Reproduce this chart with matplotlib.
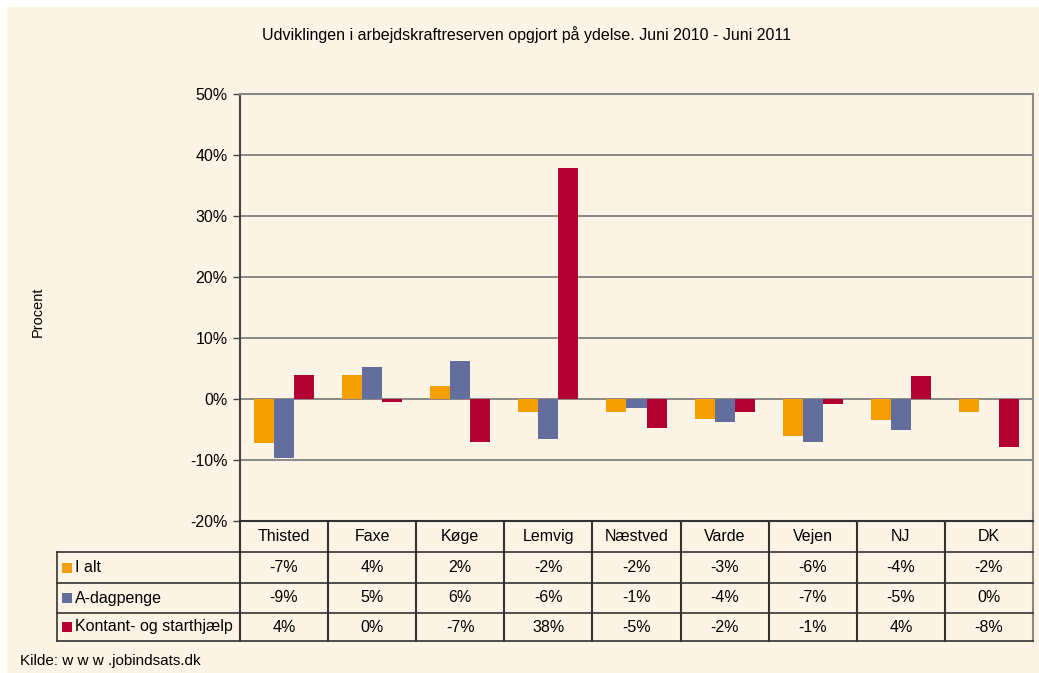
import numpy as np
import matplotlib.pyplot as plt
import matplotlib.transforms as mtransforms
from matplotlib.patches import Rectangle

plt.rcParams['font.family'] = ['Liberation Sans', 'DejaVu Sans']

# ---- data ------------------------------
categories = ["Thisted", "Faxe", "Køge", "Lemvig", "Næstved", "Varde", "Vejen", "NJ", "DK"]
series_names = ["I alt", "A-dagpenge", "Kontant- og starthjælp"]

i_alt = [-7.2, 3.9, 2.1, -2.2, -2.2, -3.2, -6.0, -3.5, -2.1]
a_dagpenge = [-9.7, 5.3, 6.2, -6.5, -1.4, -3.7, -7.0, -5.0, 0.0]
kontant = [3.9, -0.5, -7.0, 37.8, -4.7, -2.2, -0.9, 3.8, -7.8]

# values as printed in the data table
i_alt_txt = ["-7%", "4%", "2%", "-2%", "-2%", "-3%", "-6%", "-4%", "-2%"]
a_dagpenge_txt = ["-9%", "5%", "6%", "-6%", "-1%", "-4%", "-7%", "-5%", "0%"]
kontant_txt = ["4%", "0%", "-7%", "38%", "-5%", "-2%", "-1%", "4%", "-8%"]

colors = ["#F5A000", "#646E9C", "#B30032"]
bg = "#FDF4E5"
W, H = 1039, 673

fig = plt.figure(figsize=(W / 100, H / 100), dpi=100, facecolor="white")
fig.patches.append(Rectangle((7 / W, 0), 1 - 7 / W, 1 - 7 / H, transform=fig.transFigure,
                             facecolor=bg, edgecolor="none", zorder=-10))

left, right, top, bottom = 240, 1033, 94, 521
ax = fig.add_axes([left / W, 1 - bottom / H, (right - left) / W, (bottom - top) / H])
ax.set_facecolor(bg)

x = np.arange(len(categories))
w = 0.227
for k, vals in enumerate([i_alt, a_dagpenge, kontant]):
    ax.bar(x + (k - 1) * w, vals, width=w, color=colors[k], zorder=3)

ax.set_xlim(-0.5, len(categories) - 0.5)
ax.set_ylim(-20, 50)
ax.set_yticks(np.arange(-20, 51, 10))
ax.set_yticklabels(["%d%%" % v for v in np.arange(-20, 51, 10)], fontsize=11.5)
ax.tick_params(axis="y", direction="out", length=5, width=1, color="#444444", pad=4)
ax.set_xticks([])
ax.yaxis.grid(True, color="#777777", linewidth=1.2, zorder=1)
for s in ["top", "right"]:
    ax.spines[s].set_color("#888888")
    ax.spines[s].set_linewidth(1.5)
ax.spines["left"].set_color("#444444")
ax.spines["left"].set_linewidth(1.5)
ax.spines["bottom"].set_color("#333333")
ax.spines["bottom"].set_linewidth(1.5)

# ---- data table below the axis ------------------------------
ph = bottom - top
rows_px = [521, 552, 583, 613, 641]
rows = [-(r - bottom) / ph for r in rows_px]
trans = mtransforms.blended_transform_factory(ax.transData, ax.transAxes)
lc = "#333333"
x_lab = (57 - left) / (right - left)
fs = 11.5

# vertical separators
for b in np.arange(len(categories) + 1) - 0.5:
    c = "#888888" if b == len(categories) - 0.5 else lc
    ax.plot([b, b], [rows[0], rows[-1]], transform=trans, color=c, lw=1.5, clip_on=False)
# horizontal lines
for r in rows[1:]:
    ax.plot([x_lab, 1], [r, r], transform=ax.transAxes, color=lc, lw=1.2, clip_on=False)
ax.plot([x_lab, x_lab], [rows[1], rows[-1]], transform=ax.transAxes, color=lc, lw=1.2, clip_on=False)

for i, c in enumerate(categories):
    ax.text(i, (rows[0] + rows[1]) / 2, c, transform=trans, ha="center", va="center", fontsize=fs)

for k, (name, txt) in enumerate(zip(series_names, [i_alt_txt, a_dagpenge_txt, kontant_txt])):
    yc = (rows[k + 1] + rows[k + 2]) / 2
    sq = 10 / ph
    ax.add_patch(Rectangle(((62 - left) / (right - left), yc - sq / 2), 10 / (right - left), sq,
                           transform=ax.transAxes, facecolor=colors[k], edgecolor="none", clip_on=False))
    ax.text((75 - left) / (right - left), yc, name, transform=ax.transAxes, ha="left", va="center",
            fontsize=fs)
    for i, t in enumerate(txt):
        ax.text(i, yc, t, transform=trans, ha="center", va="center", fontsize=fs)

fig.text(527 / W, 1 - 35 / H, "Udviklingen i arbejdskraftreserven opgjort på ydelse. Juni 2010 - Juni 2011",
         ha="center", va="center", fontsize=11.5)
fig.text(38 / W, 1 - 312 / H, "Procent", rotation=90, ha="center", va="center", fontsize=10.5)
fig.text(20 / W, 1 - 661 / H, "Kilde: w w w .jobindsats.dk", ha="left", va="center", fontsize=11)

fig.savefig("out.png", dpi=100, facecolor=fig.get_facecolor())
